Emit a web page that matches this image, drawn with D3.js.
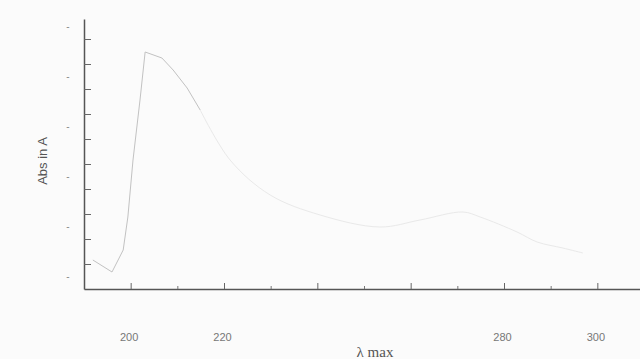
<!DOCTYPE html>
<html>
<head>
<meta charset="utf-8">
<script src="https://cdn.jsdelivr.net/npm/d3@7"></script>
<style>
body { margin: 0; background: #fbfbfb; }
svg { display: block; }
</style>
</head>
<body>
<div id="chart"></div>
<script>
// spectrum (wavelength, absorbance)
var lambda = [191.9, 196.0, 198.4, 199.4, 200.5, 202.0, 203.1, 206.7, 209.1, 212.1, 214.9];
var absVal = [0.116, 0.068, 0.156, 0.288, 0.516, 0.756, 0.948, 0.924, 0.876, 0.804, 0.716];
// faint tail of the curve
var lambdaTail = [214.9, 221.3, 229.9, 240.6, 253.4, 262.0, 271.2, 274.9, 282.8, 287.1, 292.6, 296.9];
var absTail = [0.716, 0.516, 0.376, 0.296, 0.248, 0.276, 0.308, 0.288, 0.228, 0.188, 0.164, 0.144];

var xMajor = [200, 220, 240, 260, 280, 300];
var xMinor = [210, 230, 250, 270, 290];
var xLabels = [200, 220, 280, 300];
var yTicks = [0.1, 0.2, 0.3, 0.4, 0.5, 0.6, 0.7, 0.8, 0.9, 1.0];
var yLabelVals = [1.05, 0.85, 0.65, 0.45, 0.25, 0.05];

var width = 640, height = 359;

var svg = d3.select("#chart")
    .append("svg")
    .attr("width", width)
    .attr("height", height);

var x = d3.scaleLinear().domain([190, 310]).range([84, 644]);
var y = d3.scaleLinear().domain([0, 1.08]).range([289, 19]);

// y axis, ticks pointing inside
var gY = svg.append("g")
    .attr("transform", "translate(" + x(190) + ",0)")
    .call(d3.axisRight(y).tickValues(yTicks).tickSizeInner(7).tickSizeOuter(0).tickFormat(""));
gY.select(".domain").attr("stroke", "#555").attr("stroke-width", 1.5);
gY.selectAll(".tick line").attr("stroke", "#666");

// faded y tick labels (only a dash survives)
svg.selectAll(".ylab")
    .data(yLabelVals)
    .enter().append("text")
    .attr("class", "ylab")
    .attr("x", 68)
    .attr("y", function(d) { return y(d); })
    .attr("dy", "0.35em")
    .attr("text-anchor", "middle")
    .attr("font-family", "Liberation Sans, Arial, sans-serif")
    .attr("font-size", "10px")
    .attr("fill", "#888")
    .text("-");

// x axis: major ticks up with labels below
var gX = svg.append("g")
    .attr("transform", "translate(0," + y(0) + ")")
    .call(d3.axisBottom(x).tickValues(xMajor).tickSizeInner(-6).tickSizeOuter(0).tickPadding(44)
        .tickFormat(function(d) { return xLabels.indexOf(d) >= 0 ? d : ""; }));
gX.select(".domain").attr("stroke", "#555").attr("stroke-width", 1.5);
gX.selectAll(".tick line").attr("stroke", "#666");
gX.selectAll(".tick text")
    .attr("font-family", "Liberation Sans, Arial, sans-serif")
    .attr("font-size", "11px")
    .attr("fill", "#777")
    .attr("dx", "-2");

var gXm = svg.append("g")
    .attr("transform", "translate(0," + y(0) + ")")
    .call(d3.axisBottom(x).tickValues(xMinor).tickSizeInner(-3).tickSizeOuter(0).tickFormat(""));
gXm.select(".domain").remove();
gXm.selectAll(".tick line").attr("stroke", "#777");

// spectrum line
var line = d3.line()
    .x(function(d) { return x(d[0]); })
    .y(function(d) { return y(d[1]); });

svg.append("path")
    .datum(d3.zip(lambdaTail, absTail))
    .attr("fill", "none")
    .attr("stroke", "#e9e9e9")
    .attr("stroke-width", 1)
    .attr("d", line.curve(d3.curveCatmullRom));

svg.append("path")
    .datum(d3.zip(lambda, absVal))
    .attr("fill", "none")
    .attr("stroke", "#c2c2c2")
    .attr("stroke-width", 1)
    .attr("d", line.curve(d3.curveLinear));

// axis titles
svg.append("text")
    .attr("transform", "translate(47,161) rotate(-90)")
    .attr("text-anchor", "middle")
    .attr("font-family", "Liberation Sans, Arial, sans-serif")
    .attr("font-size", "13px")
    .attr("fill", "#555")
    .text("Abs in A");

svg.append("text")
    .attr("x", 375)
    .attr("y", 357)
    .attr("text-anchor", "middle")
    .attr("font-family", "Liberation Serif, Times New Roman, serif")
    .attr("font-size", "15px")
    .attr("fill", "#555")
    .text("λ max");
</script>
</body>
</html>
